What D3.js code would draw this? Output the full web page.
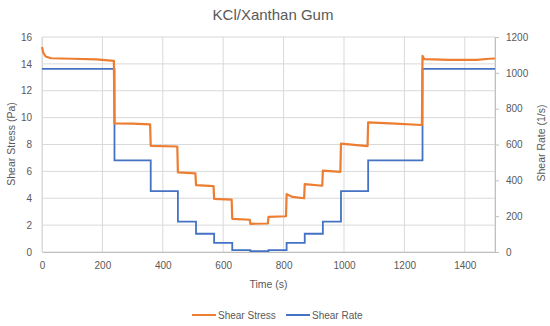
<!DOCTYPE html>
<html>
<head>
<meta charset="utf-8">
<script src="https://cdn.jsdelivr.net/npm/d3@7"></script>
<style>
  body { margin: 0; background: #fff; }
  text { font-family: "Liberation Sans", Arial, sans-serif; fill: #595959; }
</style>
</head>
<body>
<svg id="chart" width="550" height="326"></svg>
<script>
// shear rate steps (1/s), held from each time until the next
var rateTime  = [0, 240, 360, 450, 510, 570, 630, 690, 750, 810, 870, 930, 990, 1080, 1260, 1500];
var rateValue = [1022, 511, 340, 170, 102, 51, 10, 5, 10, 51, 102, 170, 340, 511, 1022, 1022];

// shear stress (Pa)
var stressTime  = [0, 4, 12, 30, 100, 180, 238,
                   240, 300, 358,
                   360, 448,
                   450, 508,
                   510, 568,
                   570, 628,
                   630, 688,
                   690, 748,
                   750, 808,
                   810, 830, 868,
                   870, 928,
                   930, 988,
                   990, 1078,
                   1080, 1170, 1258,
                   1260, 1266, 1350, 1440, 1480, 1500];
var stressValue = [15.25, 14.85, 14.55, 14.42, 14.38, 14.33, 14.22,
                   9.57, 9.55, 9.5,
                   7.9, 7.85,
                   5.92, 5.85,
                   4.98, 4.9,
                   3.95, 3.9,
                   2.47, 2.4,
                   2.1, 2.12,
                   2.62, 2.66,
                   4.3, 4.1, 4.0,
                   5.05, 4.93,
                   6.05, 5.97,
                   8.07, 7.88,
                   9.65, 9.55, 9.45,
                   14.6, 14.35, 14.3, 14.3, 14.38, 14.4];

var xTicks = [0, 200, 400, 600, 800, 1000, 1200, 1400];
var yLeftTicks = [0, 2, 4, 6, 8, 10, 12, 14, 16];
var yRightTicks = [0, 200, 400, 600, 800, 1000, 1200];

var margin = {top: 37, right: 55, bottom: 74, left: 42};
var width = 550 - margin.left - margin.right;
var height = 326 - margin.top - margin.bottom;

var svg = d3.select("#chart");
var g = svg.append("g").attr("transform", "translate(" + margin.left + "," + margin.top + ")");

var x = d3.scaleLinear().domain([0, 1500]).range([0, width]);
var yL = d3.scaleLinear().domain([0, 16]).range([height, 0]);
var yR = d3.scaleLinear().domain([0, 1200]).range([height, 0]);

// gridlines
g.append("g").selectAll("line").data(yLeftTicks).enter().append("line")
  .attr("x1", 0).attr("x2", width)
  .attr("y1", d => yL(d)).attr("y2", d => yL(d))
  .attr("stroke", "#d9d9d9").attr("stroke-width", 1);
g.append("g").selectAll("line").data(xTicks.concat([1500])).enter().append("line")
  .attr("x1", d => x(d)).attr("x2", d => x(d))
  .attr("y1", 0).attr("y2", height)
  .attr("stroke", "#d9d9d9").attr("stroke-width", 1);

// axes
var fmt = d3.format("d");
var bottom = g.append("g").attr("transform", "translate(0," + height + ")")
  .call(d3.axisBottom(x).tickValues(xTicks).tickFormat(fmt).tickSize(0).tickPadding(10));
var left = g.append("g")
  .call(d3.axisLeft(yL).tickValues(yLeftTicks).tickFormat(fmt).tickSize(0).tickPadding(10));
var right = g.append("g").attr("transform", "translate(" + width + ",0)")
  .call(d3.axisRight(yR).tickValues(yRightTicks).tickFormat(fmt).tickSize(4).tickPadding(7));
[bottom, left, right].forEach(function(a) {
  a.select(".domain").attr("stroke", "#bfbfbf");
  a.selectAll(".tick line").attr("stroke", "#bfbfbf");
  a.selectAll("text").style("font-size", "10px").attr("fill", "#595959");
});
left.select(".domain").attr("stroke", "#d9d9d9");

// series
var rateLine = d3.line()
  .x((d, i) => x(rateTime[i]))
  .y(d => yR(d))
  .curve(d3.curveStepAfter);
g.append("path").datum(rateValue)
  .attr("d", rateLine)
  .attr("fill", "none").attr("stroke", "#4472c4").attr("stroke-width", 1.8);

var stressLine = d3.line()
  .x((d, i) => x(stressTime[i]))
  .y(d => yL(d));
g.append("path").datum(stressValue)
  .attr("d", stressLine)
  .attr("fill", "none").attr("stroke", "#ed7d31").attr("stroke-width", 2.2)
  .attr("stroke-linejoin", "round");

// titles
svg.append("text").text("KCl/Xanthan Gum")
  .attr("x", 273).attr("y", 20).attr("text-anchor", "middle")
  .style("font-size", "15px");
svg.append("text").text("Time (s)")
  .attr("x", margin.left + width / 2).attr("y", 288).attr("text-anchor", "middle")
  .style("font-size", "10.5px");
svg.append("text").text("Shear Stress (Pa)")
  .attr("transform", "translate(15,144) rotate(-90)").attr("text-anchor", "middle")
  .style("font-size", "10.5px");
svg.append("text").text("Shear Rate (1/s)")
  .attr("transform", "translate(545,143) rotate(-90)").attr("text-anchor", "middle")
  .style("font-size", "10.5px");

// legend
var legendItems = [{label: "Shear Stress", color: "#ed7d31", x: 192},
                   {label: "Shear Rate", color: "#4472c4", x: 286}];
var legend = svg.append("g").selectAll("g").data(legendItems).enter().append("g")
  .attr("transform", d => "translate(" + d.x + ",315)");
legend.append("line").attr("x1", 0).attr("x2", 24).attr("y1", 0).attr("y2", 0)
  .attr("stroke", d => d.color).attr("stroke-width", 2);
legend.append("text").text(d => d.label).attr("x", 26).attr("y", 3.5)
  .style("font-size", "10px");
</script>
</body>
</html>
